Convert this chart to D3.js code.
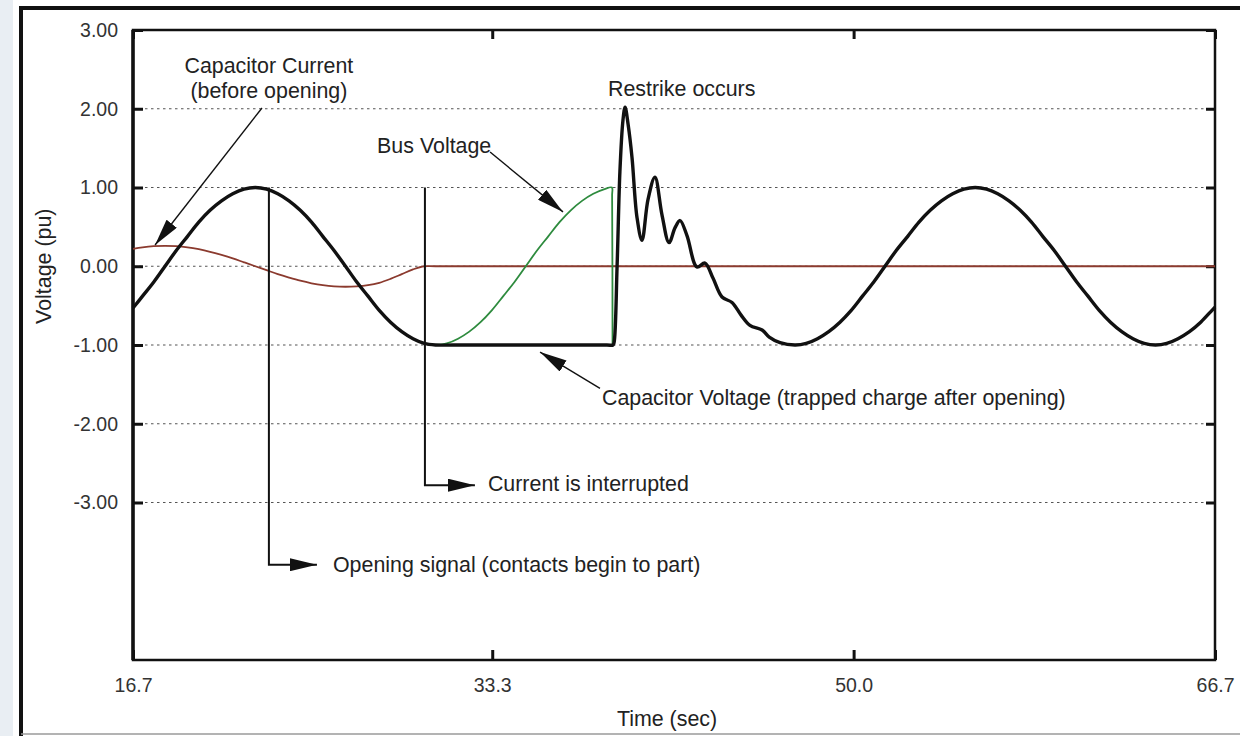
<!DOCTYPE html>
<html>
<head>
<meta charset="utf-8">
<script src="https://cdn.jsdelivr.net/npm/d3@7"></script>
<style>
  body { margin: 0; background: #e9eef3; }
  svg { display: block; }
  text { font-family: "Liberation Sans", Arial, sans-serif; }
</style>
</head>
<body>
<div id="chart"></div>
<script>
// axis ticks
const xTicks = [16.7, 33.3, 50.0, 66.7];
const yTicks = [-3, -2, -1, 0, 1, 2, 3];

// [time, pu]
const capVoltage = [
  [16.7,-0.53],[17.14,-0.38],[17.66,-0.2],[18.18,0],[18.70,0.2],[19.22,0.38],[19.74,0.56],[20.26,0.71],
  [20.79,0.83],[21.31,0.92],[21.83,0.98],[22.35,1.0],[22.87,0.98],[23.39,0.92],[23.91,0.83],[24.43,0.71],
  [24.95,0.56],[25.47,0.38],[25.99,0.2],[26.52,0],[27.04,-0.2],[27.56,-0.38],[28.08,-0.56],[28.60,-0.71],
  [29.12,-0.83],[29.64,-0.92],[30.16,-0.98],[30.68,-1.0],[31.5,-1.0],
  [38.6,-1.0],[38.88,-1.0],[38.93,-0.97],[39.07,0.0],[39.2,1.2],[39.34,1.85],[39.44,2.02],[39.58,1.8],[39.76,1.38],[39.99,0.62],
  [40.22,0.33],[40.5,0.85],[40.82,1.13],[41.14,0.66],[41.47,0.30],[41.75,0.49],[41.98,0.58],[42.3,0.39],
  [42.76,-0.01],[43.13,0.04],[43.5,-0.15],[43.92,-0.39],[44.38,-0.46],[44.8,-0.62],[45.21,-0.75],
  [45.77,-0.81],[46.1,-0.9],[46.6,-0.97],[47.29,-1.0],
  [47.81,-0.98],[48.33,-0.92],[48.85,-0.83],[49.37,-0.71],[49.89,-0.56],[50.41,-0.38],[50.93,-0.2],[51.45,0],
  [51.97,0.2],[52.50,0.38],[53.02,0.56],[53.54,0.71],[54.06,0.83],[54.58,0.92],[55.10,0.98],[55.62,1.0],
  [56.14,0.98],[56.66,0.92],[57.18,0.83],[57.70,0.71],[58.22,0.56],[58.74,0.38],[59.27,0.2],[59.79,0],
  [60.31,-0.2],[60.83,-0.38],[61.35,-0.56],[61.87,-0.71],[62.39,-0.83],[62.91,-0.92],[63.43,-0.98],[63.95,-1.0],
  [64.47,-0.98],[64.99,-0.92],[65.52,-0.83],[66.04,-0.71],[66.56,-0.56],[66.7,-0.52]
];

const capCurrent = [
  [16.7,0.22],[17.14,0.24],[17.66,0.255],[18.18,0.26],[18.70,0.255],[19.22,0.24],[19.74,0.216],[20.26,0.184],
  [20.79,0.144],[21.31,0.10],[21.83,0.05],[22.35,0],[22.87,-0.05],[23.39,-0.10],[23.91,-0.144],[24.43,-0.184],
  [24.95,-0.216],[25.47,-0.24],[25.99,-0.255],[26.52,-0.26],[27.04,-0.255],[27.56,-0.24],[28.08,-0.21],
  [28.60,-0.16],[29.12,-0.10],[29.64,-0.04],[30.16,0],[30.68,0],[66.7,0]
];

const busVoltage = [
  [30.68,-1.0],[31.20,-0.98],[31.72,-0.92],[32.24,-0.83],[32.76,-0.71],[33.28,-0.56],[33.81,-0.38],[34.33,-0.2],
  [34.85,0],[35.37,0.2],[35.89,0.38],[36.41,0.56],[36.93,0.71],[37.45,0.83],[37.97,0.92],[38.49,0.98],
  [38.83,1.0],[38.84,0.9],[38.86,-1.0]
];

// annotation texts, anchored in data units
const labels = [
  { text: "Capacitor Current", t: 22.98, v: 2.45, anchor: "middle" },
  { text: "(before opening)", t: 22.98, v: 2.14, anchor: "middle" },
  { text: "Bus Voltage", t: 27.98, v: 1.44, anchor: "start" },
  { text: "Restrike occurs", t: 38.65, v: 2.16, anchor: "start" },
  { text: "Capacitor Voltage (trapped charge after opening)", t: 38.37, v: -1.76, anchor: "start" },
  { text: "Current is interrupted", t: 33.1, v: -2.85, anchor: "start" },
  { text: "Opening signal (contacts begin to part)", t: 25.94, v: -3.88, anchor: "start" }
];
const pointers = [
  [[22.66, 2.01], [17.72, 0.27]],
  [[33.2, 1.45], [36.57, 0.69]],
  [[38.28, -1.55], [35.51, -1.09]]
];
const elbows = [
  [[22.98, 1.0], [22.98, -3.79], [25.2, -3.79]],
  [[30.19, 1.0], [30.19, -2.78], [32.5, -2.78]]
];

const W = 1240, H = 736, M = {t: 30, r: 25, b: 76, l: 133};
const FS = 21.4;

const svg = d3.select("#chart").append("svg")
  .attr("width", W)
  .attr("height", H);

// page + outer frame
svg.append("rect").attr("x", 13).attr("y", 0).attr("width", W - 13).attr("height", H).attr("fill", "#fff");
svg.append("path").attr("d", `M21,${H} V8 H${W}`).attr("fill", "none").attr("stroke", "#111").attr("stroke-width", 4);
svg.append("line").attr("x1", 21).attr("x2", W).attr("y1", H - 2).attr("y2", H - 2)
  .attr("stroke", "#9a9a9a").attr("stroke-width", 1.5);

const x = d3.scaleLinear().domain([16.7, 66.7]).range([M.l, W - M.r]);
const y = d3.scaleLinear().domain([-5, 3]).range([H - M.b, M.t]);

// dotted grid
svg.append("g").selectAll("line")
  .data(yTicks.filter(d => d < 3))
  .enter().append("line")
  .attr("x1", M.l).attr("x2", W - M.r)
  .attr("y1", d => y(d)).attr("y2", d => y(d))
  .attr("stroke", "#555")
  .attr("stroke-width", 1.2)
  .attr("stroke-dasharray", "2.5,3.5");

function styleAxis(g) {
  g.select(".domain").remove();
  g.selectAll(".tick line").attr("stroke", "#111").attr("stroke-width", 3);
  g.selectAll(".tick text").attr("font-size", 19.5).attr("fill", "#333")
    .attr("font-family", "'Liberation Sans', Arial, sans-serif");
}

svg.append("g")
  .attr("transform", `translate(${M.l},0)`)
  .call(d3.axisLeft(y).tickValues(yTicks).tickSize(-10).tickPadding(15).tickFormat(d => d.toFixed(2)))
  .call(styleAxis);

svg.append("g")
  .attr("transform", `translate(${W - M.r},0)`)
  .call(d3.axisRight(y).tickValues(yTicks).tickSize(-9).tickFormat(""))
  .call(styleAxis);

svg.append("g")
  .attr("transform", `translate(0,${H - M.b})`)
  .call(d3.axisBottom(x).tickValues(xTicks).tickSize(-10).tickPadding(18).tickFormat(d => d.toFixed(1)))
  .call(styleAxis);

svg.append("g")
  .attr("transform", `translate(0,${M.t})`)
  .call(d3.axisTop(x).tickValues(xTicks).tickSize(-9).tickFormat(""))
  .call(styleAxis);

// plot frame
svg.append("rect")
  .attr("x", M.l).attr("y", M.t)
  .attr("width", W - M.l - M.r).attr("height", H - M.t - M.b)
  .attr("fill", "none").attr("stroke", "#111").attr("stroke-width", 2.5);
svg.append("line").attr("x1", M.l).attr("x2", M.l).attr("y1", M.t).attr("y2", H - M.b)
  .attr("stroke", "#111").attr("stroke-width", 3.5);

// series
const line = d3.line().x(d => x(d[0])).y(d => y(d[1])).curve(d3.curveCatmullRom.alpha(0.5));

svg.append("path").datum(capCurrent).attr("d", line)
  .attr("fill", "none").attr("stroke", "#8b3a2e").attr("stroke-width", 1.8);
svg.append("path").datum(busVoltage).attr("d", line)
  .attr("fill", "none").attr("stroke", "#2e8b3e").attr("stroke-width", 1.8);
svg.append("path").datum(capVoltage).attr("d", line)
  .attr("fill", "none").attr("stroke", "#111").attr("stroke-width", 3.4)
  .attr("stroke-linejoin", "round");

// arrowheads
svg.append("defs").append("marker")
  .attr("id", "head")
  .attr("viewBox", "0 0 27 13")
  .attr("refX", 27).attr("refY", 6.5)
  .attr("markerWidth", 27).attr("markerHeight", 13)
  .attr("markerUnits", "userSpaceOnUse")
  .attr("orient", "auto")
  .append("path").attr("d", "M0,0L27,6.5L0,13Z").attr("fill", "#111");

svg.append("g").selectAll("path")
  .data(pointers)
  .enter().append("path")
  .attr("d", d3.line().x(d => x(d[0])).y(d => y(d[1])))
  .attr("fill", "none").attr("stroke", "#111").attr("stroke-width", 1.4)
  .attr("marker-end", "url(#head)");

svg.append("g").selectAll("path")
  .data(elbows)
  .enter().append("path")
  .attr("d", d3.line().x(d => x(d[0])).y(d => y(d[1])))
  .attr("fill", "none").attr("stroke", "#111").attr("stroke-width", 2)
  .attr("marker-end", "url(#head)");

svg.append("g").selectAll("text")
  .data(labels)
  .enter().append("text")
  .attr("x", d => x(d.t))
  .attr("y", d => y(d.v))
  .attr("text-anchor", d => d.anchor)
  .attr("font-size", FS)
  .attr("fill", "#222")
  .text(d => d.text);

// axis titles
svg.append("text")
  .attr("x", 667).attr("y", H - 10)
  .attr("text-anchor", "middle")
  .attr("font-size", FS).attr("fill", "#222")
  .text("Time (sec)");

svg.append("text")
  .attr("transform", `translate(51,${y(0)}) rotate(-90)`)
  .attr("text-anchor", "middle")
  .attr("font-size", FS).attr("fill", "#222")
  .text("Voltage (pu)");
</script>
</body>
</html>
